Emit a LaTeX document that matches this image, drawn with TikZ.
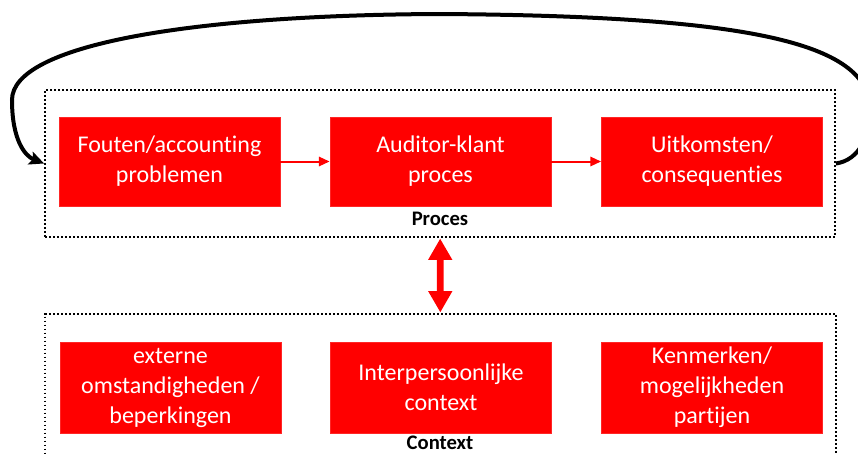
\documentclass[tikz,border=0pt]{standalone}
\usepackage{fontspec}
\setmainfont{Carlito}[Ligatures=NoCommon]
\usetikzlibrary{positioning,arrows.meta}
\tikzset{redbox/.style={fill=red, draw=red!85!white, text=white, align=center,
			minimum width=166pt, minimum height=67pt, inner sep=0pt,
			font=\fontsize{18}{22.5}\selectfont}}
\tikzset{frame/.style={draw, line width=1.3pt, dash pattern=on 1.3pt off 1.7pt}}
\tikzset{framelabel/.style={anchor=base, font=\bfseries\fontsize{15.5}{17}\selectfont, inner sep=0pt}}
\tikzset{smallarrow/.style={->, red, line width=1.5pt, >={Triangle[length=8pt,width=7pt]}}}
\tikzset{bigarrow/.style={{Triangle[length=16pt,width=17pt]}-{Triangle[length=16pt,width=17pt]}, red, line width=5pt, shorten <=0.5pt, shorten >=0.5pt}}
\tikzset{feedback/.style={-{Stealth[length=11pt,width=10pt,inset=2pt]}, line width=3pt}}

\begin{document}
\begin{tikzpicture}[x=0.75pt,y=-0.75pt]
		\useasboundingbox (0,0) rectangle (858,454);
		\clip (0,0) rectangle (858,454);
		
		% kaders
		\node[frame, minimum width=592.5pt, minimum height=110.25pt] (proces) at (440,163.5) {};
		\node[framelabel] (proceslabel) at (440,225) {Proces};
		\node[frame, minimum width=593pt, minimum height=117pt] (context) at (440.5,392) {};
		\node[framelabel] (contextlabel) at (440,449.5) {Context};
		
		% proces
		\node[redbox] (fouten) at (169.5,161.5) {Fouten/accounting\\problemen};
		\node[redbox] (auditor) at (440.5,161.5) {Auditor-klant\\proces};
		\node[redbox] (uitkomsten) at (712,161.5) {Uitkomsten/\\consequenties};
		
		% context
		\node[redbox, minimum height=68.25pt] (extern) at (170.5,387.5) {externe\\omstandigheden /\\beperkingen};
		\node[redbox, minimum height=68.25pt] (interpers) at (441,387.5) {Interpersoonlijke\\context};
		\node[redbox, minimum height=68.25pt] (kenmerken) at (712,387.5) {Kenmerken/\\mogelijkheden\\partijen};
		
		\draw[smallarrow] (fouten) -- (auditor);
		\draw[smallarrow] (auditor) -- (uitkomsten);
		\draw[bigarrow] (proces) -- (context);
		
		% terugkoppeling
		\coordinate (top) at (440,14);
		\draw[feedback] (proces.east) .. controls (860,160) and (870,135) .. (870,110)
			.. controls (870,45) and (760,16) .. (top)
			.. controls (190,15) and (12,45) .. (12,100)
			.. controls (12,140) and (25,156) .. (proces.west);
	\end{tikzpicture}
\end{document}
